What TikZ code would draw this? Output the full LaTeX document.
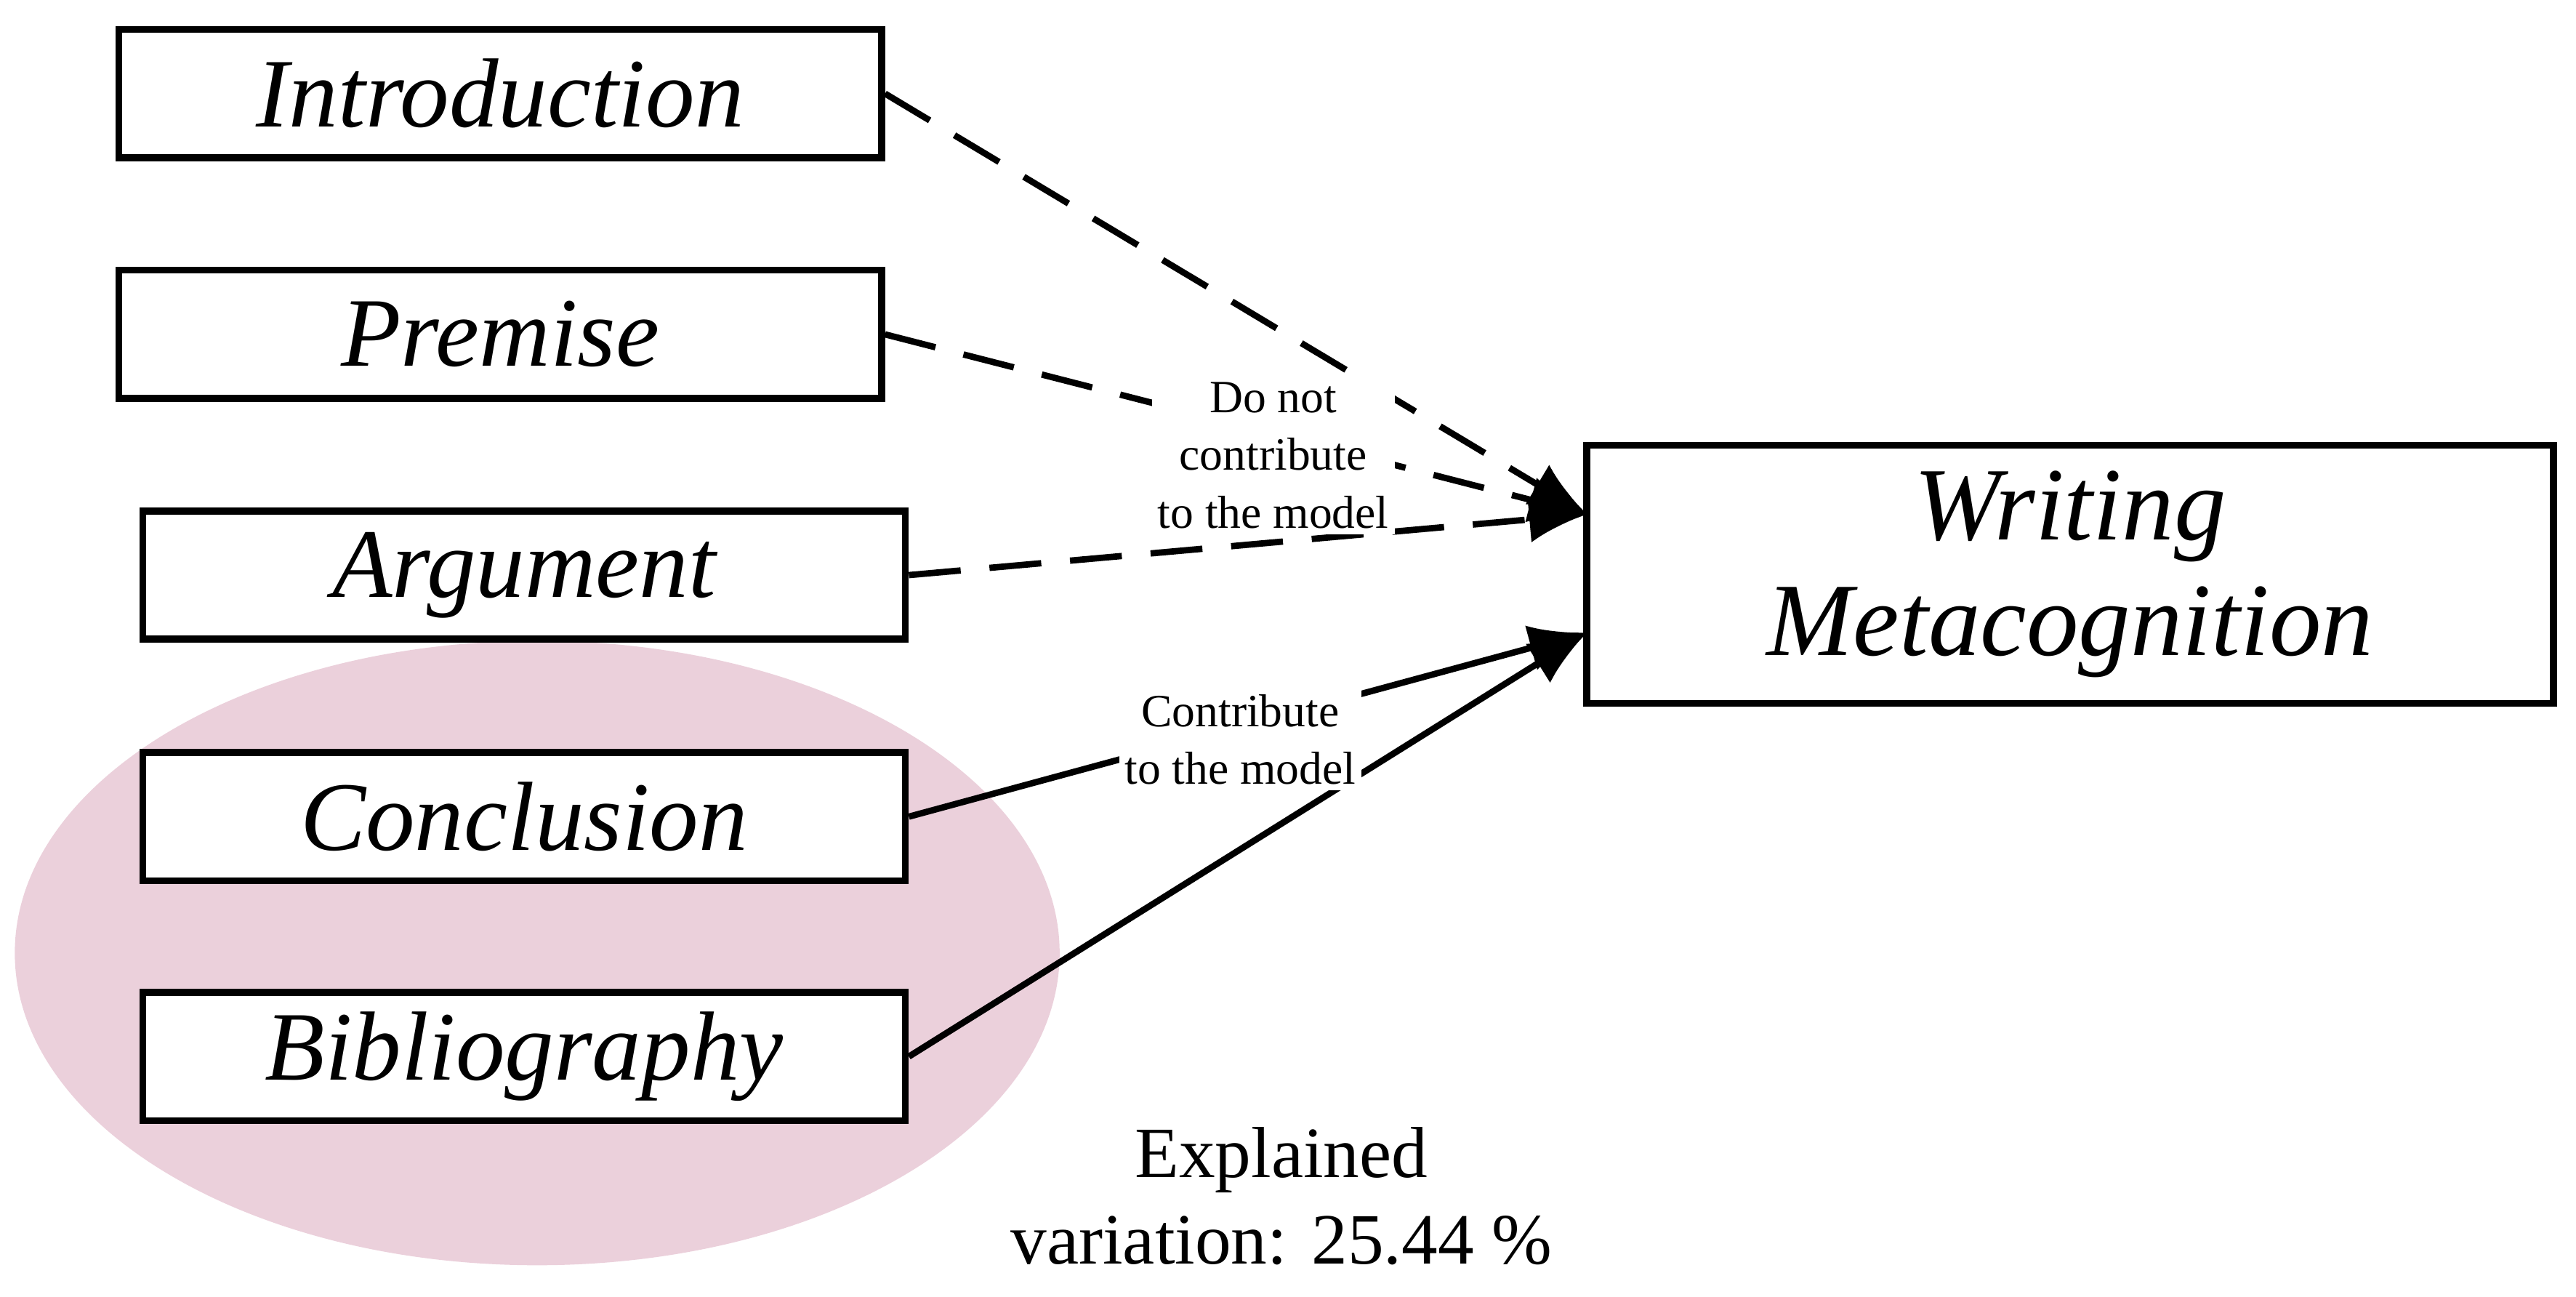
\documentclass[tikz,border=0pt]{standalone}
\usepackage{fontspec}
\setmainfont{Liberation Serif}
\usetikzlibrary{arrows.meta}
\definecolor{pinkell}{HTML}{EBD0DB}
\begin{document}
\begin{tikzpicture}[x=0.01cm,y=-0.01cm,
  box/.style={draw,fill=white,line width=1.2pt,minimum width=4.64cm,minimum height=0.78cm,inner sep=0pt,font=\fontsize{17}{20}\selectfont\itshape},
  dsh/.style={line width=1.1pt,dash pattern=on 9pt off 5pt},
  sld/.style={line width=1.1pt},
  tip/.style={-{Latex[length=10pt,width=8pt]}},
  lab/.style={fill=white,inner sep=1pt,align=center,font=\fontsize{8}{10}\selectfont}]
\useasboundingbox (0,0) rectangle (1568,789);
\fill[pinkell] (327,580) ellipse [x radius=318, y radius=190];
\node[box] (intro) at (304.5,57) {Introduction};
\node[box] (prem) at (304.5,203.5) {Premise};
\node[box] (arg) at (319,350) {Argument};
\node[box] (conc) at (319,497) {Conclusion};
\node[box] (bib) at (319,643) {Bibliography};
\node[draw,line width=1.2pt,minimum width=5.88cm,minimum height=1.57cm,inner sep=0pt,align=center,font=\fontsize{18}{20}\selectfont\itshape] (wm) at (1260,349.5) {Writing\\Metacognition};
\coordinate (t1) at (966,313);
\coordinate (t2) at (966,385);
\draw[dsh,tip] (intro.east) -- (t1);
\draw[dsh,tip] (prem.east) -- (t1);
\draw[dsh,tip] (arg.east) -- (t1);
\draw[sld,tip] (conc.east) -- (t2);
\draw[sld,tip] (bib.east) -- (t2);
\node[lab] (l1) at (775,277) {Do not\\contribute\\to the model};
\node[lab] (l2) at (755,450) {Contribute\\to the model};
\node[align=center,font=\fontsize{12.5}{15}\selectfont] (ev) at (780,728) {Explained\\variation: 25.44 \%};
\end{tikzpicture}
\end{document}
